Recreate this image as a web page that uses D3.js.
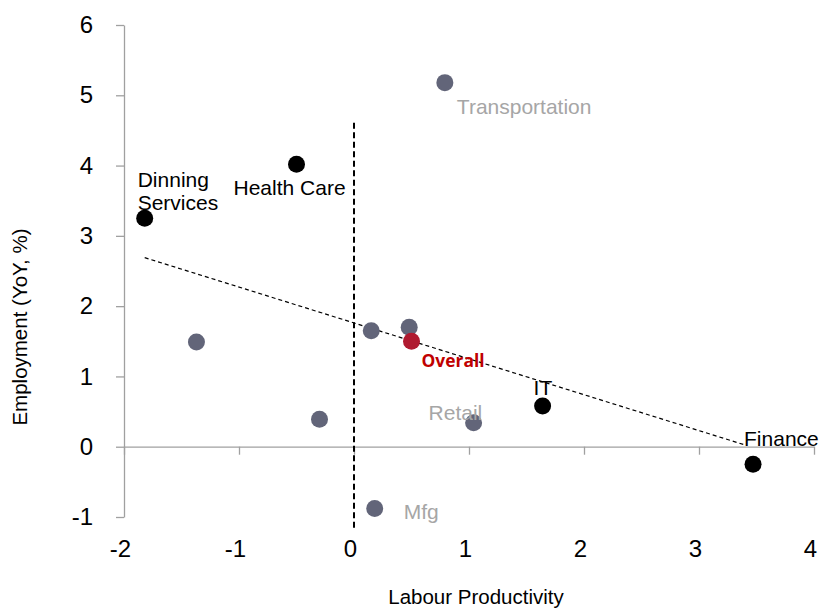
<!DOCTYPE html>
<html>
<head>
<meta charset="utf-8">
<script src="https://cdn.jsdelivr.net/npm/d3@7"></script>
<style>
  body { margin: 0; background: #fff; }
  svg text { font-family: "Liberation Sans", Arial, sans-serif; }
</style>
</head>
<body>
<svg id="chart" width="819" height="608"></svg>
<script>
// Sector data: labour productivity (x) vs employment growth YoY % (y)
const sectors   = ["Transportation", "Health Care", "Dinning Services", "Other A", "Other B", "Other C", "Overall", "Other D", "Retail", "IT", "Finance", "Mfg"];
const xValues   = [0.79, -0.50, -1.82, -1.37, 0.15, 0.48, 0.50, -0.30, 1.04, 1.64, 3.47, 0.18];
const yValues   = [5.18, 4.02, 3.25, 1.49, 1.65, 1.70, 1.50, 0.39, 0.34, 0.58, -0.25, -0.88];
const groups    = ["grey", "black", "black", "grey", "grey", "grey", "overall", "grey", "grey", "black", "black", "grey"];

const xTicks = [-2, -1, 0, 1, 2, 3, 4];
const yTicks = [-1, 0, 1, 2, 3, 4, 5, 6];

// Fitted trend line endpoints and the zero-productivity divider
const trendX = [-1.82, 3.41];
const trendY = [2.69, 0.02];
const dividerY = [4.61, -1.18];

const svg = d3.select("#chart");
const x = d3.scaleLinear().domain([-2, 4]).range([124, 814]);
const y = d3.scaleLinear().domain([-1, 6]).range([517, 25]);

const axisColor = "#a0a0a0";
const dotColor = { grey: "#626579", black: "#000000", overall: "#b01a30" };
const fmt = d => String(d);

// Y axis
const yAxis = svg.append("g")
  .attr("transform", `translate(${x(-2)},0)`)
  .call(d3.axisLeft(y).tickValues(yTicks).tickFormat(fmt).tickSize(8).tickPadding(23).tickSizeOuter(0));
yAxis.select(".domain").attr("stroke", axisColor).attr("stroke-width", 1.3);
yAxis.selectAll(".tick line").attr("stroke", axisColor).attr("stroke-width", 1.3);
yAxis.selectAll(".tick text").attr("font-size", 24).attr("fill", "#000")
  .attr("font-family", "Liberation Sans, Arial, sans-serif");

// X axis drawn along y = 0, labels placed under the plot
const xAxis = svg.append("g")
  .attr("transform", `translate(0,${y(0)})`)
  .call(d3.axisBottom(x).tickValues(xTicks).tickFormat(fmt).tickSize(8).tickPadding(85).tickSizeOuter(0));
xAxis.select(".domain").attr("stroke", axisColor).attr("stroke-width", 1.3);
xAxis.selectAll(".tick line").attr("stroke", axisColor).attr("stroke-width", 1.3);
xAxis.selectAll(".tick text").attr("font-size", 24).attr("fill", "#000").attr("dx", -4)
  .attr("font-family", "Liberation Sans, Arial, sans-serif");

// Zero divider
svg.append("line")
  .attr("x1", x(0)).attr("x2", x(0))
  .attr("y1", y(dividerY[0])).attr("y2", y(dividerY[1]))
  .attr("stroke", "#000").attr("stroke-width", 2)
  .attr("stroke-dasharray", "6,3.5");

// Trend line
svg.append("line")
  .attr("x1", x(trendX[0])).attr("y1", y(trendY[0]))
  .attr("x2", x(trendX[1])).attr("y2", y(trendY[1]))
  .attr("stroke", "#000").attr("stroke-width", 1.2)
  .attr("stroke-dasharray", "4,3");

// Points
svg.append("g").selectAll("circle")
  .data(sectors.map((s, i) => ({ s, x: xValues[i], y: yValues[i], g: groups[i] })))
  .join("circle")
  .attr("cx", d => x(d.x))
  .attr("cy", d => y(d.y))
  .attr("r", 8.5)
  .attr("fill", d => dotColor[d.g]);

// Point labels
const labels = [
  { lines: ["Transportation"], i: 0, dx: 12, dy: 31, fill: "#a6a6a6" },
  { lines: ["Health Care"], i: 1, dx: -63, dy: 31, fill: "#000" },
  { lines: ["Dinning", "Services"], i: 2, dx: -7, dy: -31, fill: "#000" },
  { lines: ["Retail"], i: 8, dx: -45, dy: -3, fill: "#a6a6a6" },
  { lines: ["IT"], i: 9, dx: -9, dy: -11, fill: "#000" },
  { lines: ["Finance"], i: 10, dx: -9, dy: -18, fill: "#000" },
  { lines: ["Mfg"], i: 11, dx: 29, dy: 10, fill: "#a6a6a6" }
];
labels.forEach(l => {
  const t = svg.append("text")
    .attr("x", x(xValues[l.i]) + l.dx)
    .attr("y", y(yValues[l.i]) + l.dy)
    .attr("font-size", 21)
    .attr("fill", l.fill);
  l.lines.forEach((line, k) => {
    t.append("tspan").attr("x", x(xValues[l.i]) + l.dx).attr("dy", k === 0 ? 0 : 23).text(line);
  });
});

svg.append("text")
  .attr("x", x(xValues[6]) + 10)
  .attr("y", y(yValues[6]) + 26)
  .attr("font-size", 18)
  .attr("font-weight", "bold")
  .attr("fill", "#c00000")
  .attr("textLength", 63)
  .attr("lengthAdjust", "spacingAndGlyphs")
  .style("font-family", "'Open Sans', sans-serif")
  .text("Overall");

// Axis titles
svg.append("text")
  .attr("x", 476).attr("y", 604)
  .attr("text-anchor", "middle")
  .attr("font-size", 20.5)
  .text("Labour Productivity");

svg.append("text")
  .attr("transform", "translate(27,327) rotate(-90)")
  .attr("text-anchor", "middle")
  .attr("font-size", 20.5)
  .text("Employment (YoY, %)");
</script>
</body>
</html>
